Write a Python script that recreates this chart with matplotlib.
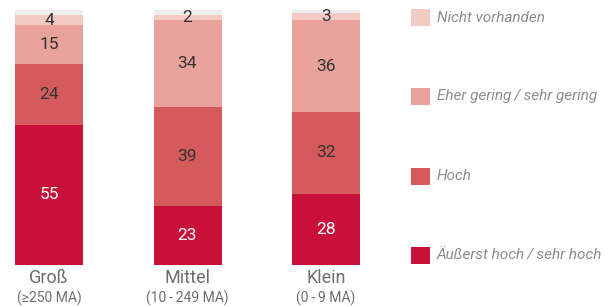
import matplotlib
matplotlib.use('Agg')
import matplotlib.pyplot as plt
from matplotlib.patches import Rectangle
from matplotlib.transforms import blended_transform_factory

plt.rcParams['font.family'] = ['Roboto', 'DejaVu Sans']

# Data
categories = ['Groß', 'Mittel', 'Klein']
subtitles = ['(≥250 MA)', '(10\u2009-\u2009249 MA)', '(0\u2009-\u20099 MA)']
sehr_hoch = [55, 23, 28]
hoch = [24, 39, 32]
gering = [15, 34, 36]
nicht = [4, 2, 3]
rest = [2, 2, 1]

series = [sehr_hoch, hoch, gering, nicht, rest]
names = ['Äußerst hoch\u2009/\u2009sehr hoch', 'Hoch', 'Eher gering\u2009/\u2009sehr gering',
         'Nicht vorhanden', None]
colors = ['#C8103B', '#D45A5C', '#E8A19B', '#F4CAC4', '#EDEDED']
label_colors = ['white', '#333333', '#333333', '#333333', None]

W, H = 616, 307
fig = plt.figure(figsize=(W / 100, H / 100), dpi=100)
ax = fig.add_axes([15 / W, 42 / H, 345 / W, 255 / H])

bw = 136 / 277
x = list(range(len(categories)))
bottom = [0] * len(categories)
for vals, col, lc in zip(series, colors, label_colors):
    bars = ax.bar(x, vals, bw, bottom=bottom, color=col, linewidth=0)
    if lc is not None:
        ax.bar_label(bars, labels=[str(v) for v in vals], label_type='center',
                     color=lc, fontsize=12.5)
    bottom = [b + v for b, v in zip(bottom, vals)]

ax.set_xlim(-bw / 2, 2 + bw / 2)
ax.set_ylim(0, 100)
ax.axis('off')

# Category labels
trans = blended_transform_factory(ax.transData, fig.transFigure)
for xi, cat, sub in zip(x, categories, subtitles):
    ax.text(xi, 1 - 278 / H, cat, transform=trans, ha='center', va='center',
            fontsize=13, color='#6e6e6e')
    ax.text(xi, 1 - 298 / H, sub, transform=trans, ha='center', va='center',
            fontsize=10, color='#6e6e6e')

# Legend (top to bottom)
legend_y = [17.5, 96.5, 176, 255.5]
for yc, idx in zip(legend_y, [3, 2, 1, 0]):
    fig.patches.append(Rectangle((411 / W, 1 - (yc + 8.5) / H), 19 / W, 17 / H,
                                 transform=fig.transFigure, facecolor=colors[idx],
                                 edgecolor='none'))
    fig.text(437 / W, 1 - yc / H, names[idx], ha='left', va='center',
             fontsize=11, style='italic', color='#8c8c8c')

fig.savefig('out.png', dpi=100, facecolor='white')
